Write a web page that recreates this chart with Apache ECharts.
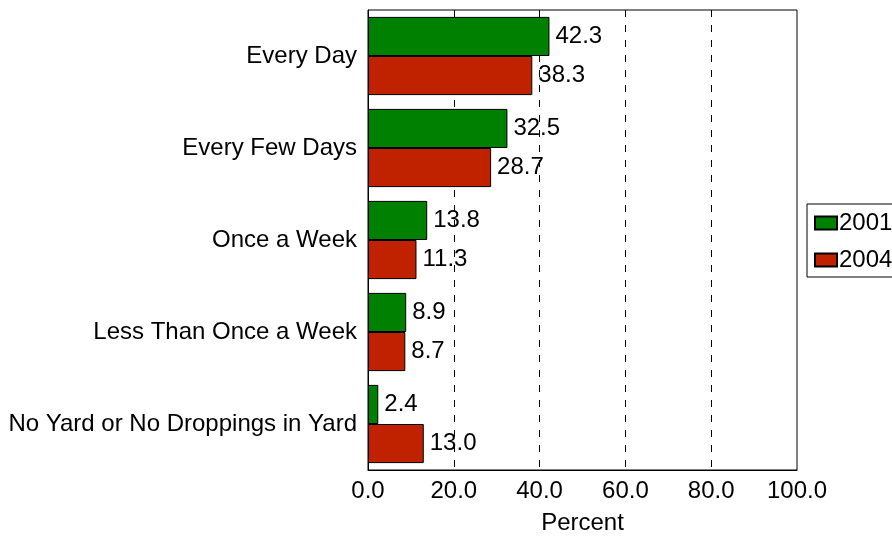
<!DOCTYPE html>
<html lang="en">
<head>
    <meta charset="UTF-8">
    <title>Frequency of removing droppings</title>
    <style>
        html, body {
            margin: 0;
            padding: 0;
            background: #fff;
        }

        #chart {
            width: 892px;
            height: 536px;
        }
    </style>
    <script src="https://cdn.jsdelivr.net/npm/echarts@6/dist/echarts.min.js"></script>
</head>
<body>
<div id="chart"></div>
<script>
    // categories, top to bottom
    var categories = ['Every Day', 'Every Few Days', 'Once a Week', 'Less Than Once a Week', 'No Yard or No Droppings in Yard'];
    // percent per year
    var values2001 = [42.3, 32.5, 13.8, 8.9, 2.4];
    var values2004 = [38.3, 28.7, 11.3, 8.7, 13.0];
    var seriesNames = ['2001', '2004'];

    var font = 'Liberation Sans, Arial, sans-serif';
    var fontSize = 24;

    var myChart = echarts.init(document.getElementById('chart'));

    function barSeries(name, data, color) {
        return {
            name: name,
            type: 'bar',
            data: data,
            barGap: '0%',
            barCategoryGap: '15%',
            itemStyle: {
                color: color,
                borderColor: '#000',
                borderWidth: 1
            },
            label: {
                show: true,
                position: 'right',
                distance: 6,
                color: '#000',
                fontFamily: font,
                fontSize: fontSize,
                formatter: function (p) {
                    return p.value.toFixed(1);
                }
            }
        };
    }

    var option = {
        animation: false,
        grid: {
            left: 368,
            right: 95,
            top: 10,
            bottom: 66,
            outerBoundsMode: 'none',
            containLabel: false,
            show: true,
            borderColor: '#000',
            borderWidth: 1
        },
        legend: {
            orient: 'vertical',
            left: 807,
            top: 204,
            padding: [7, 12, 5, 7],
            itemGap: 13,
            itemWidth: 22,
            itemHeight: 13,
            borderColor: '#000',
            borderWidth: 1,
            icon: 'rect',
            textStyle: {
                color: '#000',
                fontFamily: font,
                fontSize: fontSize,
                padding: [0, 0, 0, -3]
            },
            data: seriesNames
        },
        xAxis: {
            type: 'value',
            min: 0,
            max: 100,
            interval: 20,
            name: 'Percent',
            nameLocation: 'middle',
            nameGap: 41,
            nameTextStyle: {
                color: '#000',
                fontFamily: font,
                fontSize: fontSize
            },
            axisLine: {show: true, lineStyle: {color: '#000'}},
            axisTick: {show: false},
            axisLabel: {
                color: '#000',
                fontFamily: font,
                fontSize: fontSize,
                margin: 9,
                formatter: function (v) {
                    return v.toFixed(1);
                }
            },
            splitLine: {
                show: true,
                showMinLine: false,
                showMaxLine: false,
                lineStyle: {color: '#000', type: [7, 8], width: 1}
            }
        },
        yAxis: {
            type: 'category',
            inverse: true,
            data: categories,
            axisLine: {show: true, lineStyle: {color: '#000'}},
            axisTick: {show: false},
            axisLabel: {
                color: '#000',
                fontFamily: font,
                fontSize: fontSize,
                margin: 11
            }
        },
        series: [
            barSeries(seriesNames[0], values2001, '#008000'),
            barSeries(seriesNames[1], values2004, '#c02200')
        ]
    };

    myChart.setOption(option);
</script>
</body>
</html>
